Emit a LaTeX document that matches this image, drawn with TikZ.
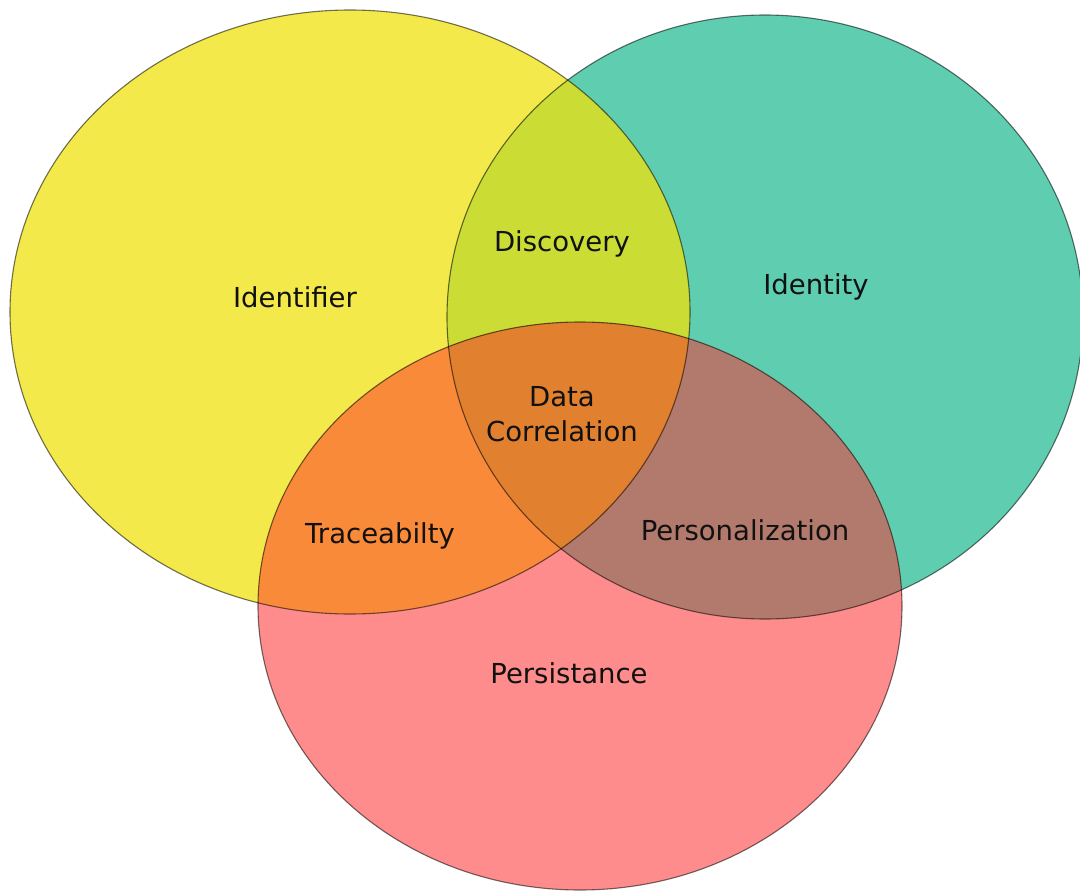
\documentclass[tikz,border=0pt]{standalone}
\usepackage{fontspec}
\setmainfont{DejaVu Sans}
\definecolor{cY}{HTML}{F3E94A}
\definecolor{cT}{HTML}{5FCEB0}
\definecolor{cP}{HTML}{FF8C8C}
\definecolor{cYT}{HTML}{CBDC35}
\definecolor{cYP}{HTML}{F98A3A}
\definecolor{cTP}{HTML}{B27A6D}
\definecolor{cYTP}{HTML}{E1802F}
\definecolor{ink}{HTML}{111111}
\begin{document}
\begin{tikzpicture}[x=1pt,y=-1pt,
  outline/.style={draw=black, draw opacity=0.55, line width=1.1pt},
  lbl/.style={font=\fontsize{27.5}{35}\selectfont, text=ink, align=center, inner sep=0pt}]
\useasboundingbox (0,0) rectangle (1080,891);
\fill[white] (0,0) rectangle (1080,891);
% base fills
\fill[cY] (350,312) ellipse [x radius=340, y radius=302];
\fill[cT] (765,317) ellipse [x radius=318, y radius=302];
\fill[cP] (580,606) ellipse [x radius=322, y radius=284];
% overlaps
\begin{scope}
  \clip (350,312) ellipse [x radius=340, y radius=302];
  \fill[cYT] (765,317) ellipse [x radius=318, y radius=302];
\end{scope}
\begin{scope}
  \clip (350,312) ellipse [x radius=340, y radius=302];
  \fill[cYP] (580,606) ellipse [x radius=322, y radius=284];
\end{scope}
\begin{scope}
  \clip (765,317) ellipse [x radius=318, y radius=302];
  \fill[cTP] (580,606) ellipse [x radius=322, y radius=284];
\end{scope}
\begin{scope}
  \clip (350,312) ellipse [x radius=340, y radius=302];
  \clip (765,317) ellipse [x radius=318, y radius=302];
  \fill[cYTP] (580,606) ellipse [x radius=322, y radius=284];
\end{scope}
% outlines
\path[outline] (350,312) ellipse [x radius=340, y radius=302];
\path[outline] (765,317) ellipse [x radius=318, y radius=302];
\path[outline] (580,606) ellipse [x radius=322, y radius=284];
% labels
\node[lbl] (identifier) at (295,297) {Identifier};
\node[lbl] (discovery) at (562,244) {Discovery};
\node[lbl] (identity) at (816,287) {Identity};
\node[lbl] (datacorr) at (562,414) {Data\\Correlation};
\node[lbl] (trace) at (380,536) {Traceabilty};
\node[lbl] (person) at (745,530) {Personalization};
\node[lbl] (persist) at (569,673) {Persistance};
\end{tikzpicture}
\end{document}
